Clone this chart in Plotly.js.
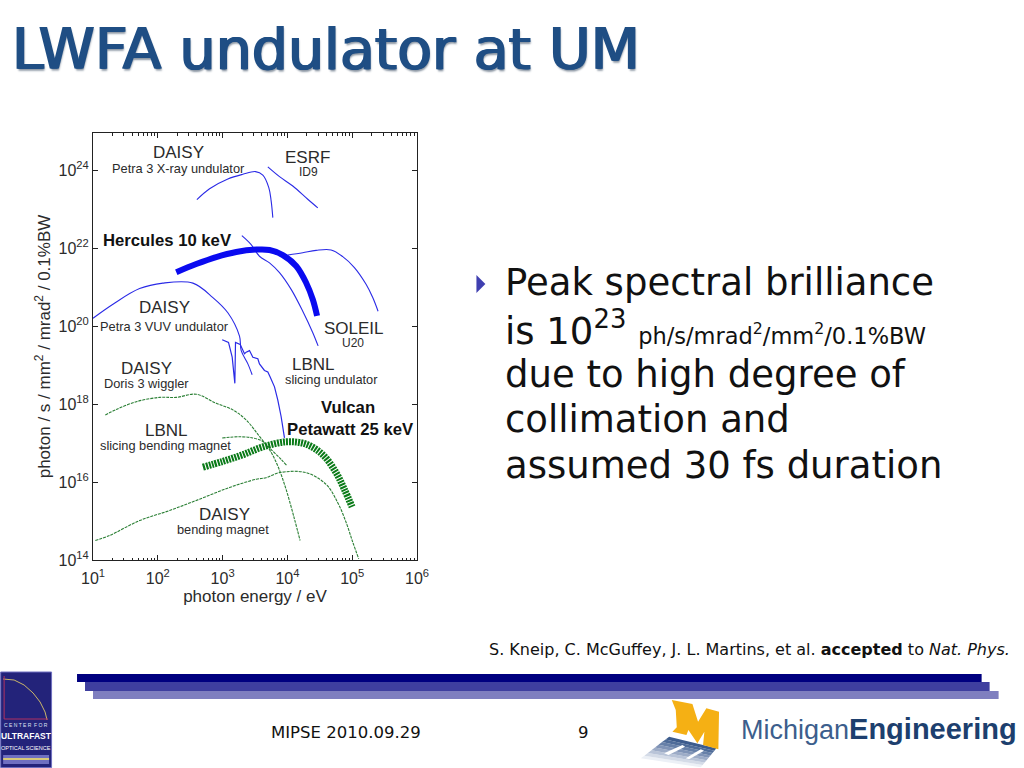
<!DOCTYPE html>
<html><head><meta charset="utf-8">
<script src="https://cdn.plot.ly/plotly-3.0.1.min.js"></script>
<style>html,body{margin:0;padding:0;background:#fff}#c{width:1024px;height:768px}</style>
</head><body><div id="c"></div>
<script>
// log10(photon energy / eV) and log10(brilliance)
const petraXrayE=[2.603,2.799,3.081,3.312,3.508,3.621,3.713,3.749,3.775];
const petraXrayB=[23.24,23.52,23.77,23.89,23.96,23.87,23.55,23.21,22.78];
const esrfE=[3.698,3.878,4.083,4.314,4.469];
const esrfB=[24.08,23.83,23.59,23.25,23.03];
const soleilE=[4.006,4.237,4.443,4.674,4.854,5.034,5.214,5.317,5.399];
const soleilB=[21.82,21.88,21.94,21.95,21.78,21.50,21.07,20.73,20.38];
const herculesE=[2.285,2.593,2.901,3.210,3.518,3.724,3.929,4.135,4.289,4.392,4.458];
const herculesB=[21.38,21.59,21.77,21.90,21.96,21.95,21.82,21.54,21.11,20.68,20.26];
const steepE=[3.297,3.441,3.569,3.724,3.878,4.058,4.237,4.392,4.474];
const steepB=[22.32,22.09,21.79,21.62,21.37,20.94,20.38,19.83,19.49];
const petraVuvE=[1.0,1.308,1.719,2.079,2.542,2.850,3.081,3.261,3.287,3.390,3.456];
const petraVuvB=[20.20,20.56,20.96,21.10,21.10,20.73,20.34,19.74,19.37,19.03,18.75];
const lbnlUndE=[2.994,3.091,3.148,3.189,3.199,3.271,3.338,3.364,3.415,3.467,3.544,3.569,3.646,3.698,3.734,3.801,3.852,3.903,3.955];
const lbnlUndB=[19.65,19.58,19.20,18.53,19.58,19.53,19.29,19.33,19.37,19.20,19.16,19.03,18.86,18.82,18.69,18.44,18.10,17.68,17.13];
const dorisE=[1.190,1.360,1.668,2.028,2.285,2.593,2.901,3.158,3.364,3.569,3.724,3.852,3.980,4.109,4.196];
const dorisB=[17.72,17.86,18.06,18.17,18.17,18.25,18.02,17.85,17.59,17.17,16.83,16.41,15.81,15.05,14.50];
const lbnlBendE=[2.994,3.261,3.467,3.621,3.775,3.903,3.991];
const lbnlBendB=[17.13,17.16,17.13,17.04,16.79,16.58,16.42];
const daisyBendE=[1.036,1.257,1.719,2.182,2.644,3.107,3.518,3.672,3.878,4.289,4.597,4.777,4.905,5.008,5.101];
const daisyBendB=[14.50,14.63,15.01,15.27,15.56,15.86,16.07,16.11,16.24,16.24,15.94,15.47,14.97,14.46,14.03];
const vulcanE=[2.696,3.004,3.312,3.621,3.980,4.289,4.546,4.751,4.880,4.998];
const vulcanB=[16.38,16.53,16.70,16.90,17.03,16.97,16.70,16.24,15.81,15.36];
const xTickExp=[1,2,3,4,5,6];
const yTickExp=[14,16,18,20,22,24];

const title="LWFA undulator at UM";
const bulletLines=["Peak spectral brilliance","is 10<sup>23</sup> <span style=\"font-size:22.5px\">ph/s/mrad<sup>2</sup>/mm<sup>2</sup>/0.1%BW</span>","due to high degree of","collimation and","assumed 30 fs duration"];
const citation="S. Kneip, C. McGuffey, J. L. Martins, et al. <b>accepted</b> to <i>Nat. Phys.</i>";

const P=v=>v.map(e=>Math.pow(10,e));
const BLUE='#2a2ae6',GREEN='#2a7f34';
const thin=(x,y,c,dash)=>({x:P(x),y:P(y),type:'scatter',mode:'lines',hoverinfo:'skip',
  line:{color:c,width:1.1,dash:dash||'solid',shape:'spline',smoothing:1}});
const data=[
 thin(petraXrayE,petraXrayB,BLUE),thin(esrfE,esrfB,BLUE),thin(soleilE,soleilB,BLUE),
 thin(steepE,steepB,BLUE),thin(petraVuvE,petraVuvB,BLUE),
 {x:P(lbnlUndE),y:P(lbnlUndB),type:'scatter',mode:'lines',line:{color:BLUE,width:1.2}},
 thin(dorisE,dorisB,GREEN,'3px,1px'),thin(lbnlBendE,lbnlBendB,GREEN,'3px,1px'),thin(daisyBendE,daisyBendB,GREEN,'3px,1px'),
 {x:P(herculesE),y:P(herculesB),type:'scatter',mode:'lines',line:{color:'#0a0af0',width:6,shape:'spline',smoothing:1}},
 {x:P(vulcanE),y:P(vulcanB),type:'scatter',mode:'lines',line:{color:'#0a7a18',width:7,dash:'2px,1px',shape:'spline',smoothing:1}}
];
// screen-pixel helpers for the slide furniture around the plot
const L=93,R=417.5,T=133,B=560;
const px=X=>(X-L)/(R-L), py=Y=>(B-Y)/(B-T);
const HV="Liberation Sans",DJ="DejaVu Sans";
const ann=(X,Y,text,size,opts)=>Object.assign({xref:'paper',yref:'paper',x:px(X),y:py(Y),text,showarrow:false,
  font:{family:HV,size,color:'#2b2b2b'},xanchor:'center',yanchor:'middle'},opts||{});
const bold=(X,Y,t)=>ann(X,Y,'<b>'+t+'</b>',16.7,{font:{family:HV,size:16.7,color:'#111'}});
const annotations=[
 ann(179,152,'DAISY',17),ann(179,168,'Petra 3 X-ray undulator',12.8),
 ann(308,158,'ESRF',17),ann(309,172,'ID9',12),
 bold(168,241,'Hercules 10 keV'),
 ann(165,307,'DAISY',17),ann(165,326,'Petra 3 VUV undulator',12.8),
 ann(354,328,'SOLEIL',17),ann(353,343,'U20',12),
 ann(147,368,'DAISY',17),ann(147,383,'Doris 3 wiggler',12.8),
 ann(314,364,'LBNL',17),ann(332,379,'slicing undulator',12.8),
 bold(348,407,'Vulcan'),bold(351,429,'Petawatt 25 keV'),
 ann(167,430,'LBNL',17),ann(166,446,'slicing bending magnet',12.8),
 ann(225,514,'DAISY',17),ann(223,529,'bending magnet',12.8),
 ann(10,49,title,57,{xanchor:'left',font:{family:DJ,size:57,color:'#1f4e84',shadow:'1px 0 0 #1f4e84, -1px 0 0 #1f4e84, 1px 2px 2px #8b96a3'}}),
 ...bulletLines.map((t,i)=>ann(504,[282,328,374,419,465][i],t,37,{xanchor:'left',font:{family:DJ,size:37,color:'#111'}})),
 ann(488,649,citation,16,{xanchor:'left',font:{family:DJ,size:16,color:'#111'}}),
 ann(346.5,732,'MIPSE 2010.09.29',16.5,{font:{family:DJ,size:16.5,color:'#111'}}),
 ann(584,732,'9',16.5,{font:{family:DJ,size:16.5,color:'#111'}}),
 ann(740,729,'<span style="font-size:27px;color:#3c5e8c">Michigan</span><b style="font-size:29px">Engineering</b>',28,{xanchor:'left',font:{family:HV,size:28,color:'#1d3f6e'}}),
 ann(26,725,'C E N T E R  F O R',5,{font:{family:HV,size:5,color:'#dfe3f5'}}),
 ann(26,736,'<b>ULTRAFAST</b>',8.5,{font:{family:HV,size:8.5,color:'#fff'}}),
 ann(26,748,'OPTICAL SCIENCE',5.5,{font:{family:HV,size:5.5,color:'#fff'}})
];
const rect=(x0,y0,x1,y1,c,lc)=>({type:'rect',xref:'paper',yref:'paper',x0:px(x0),x1:px(x1),y0:py(y0),y1:py(y1),fillcolor:c,line:{width:lc?1:0,color:lc||c},layer:'above'});
const poly=(pts,c)=>({type:'path',xref:'paper',yref:'paper',
  path:'M'+pts.map(p=>px(p[0])+','+py(p[1])).join(' L')+' Z',fillcolor:c,line:{width:0},layer:'above'});
const open=(pts,c,lw)=>({type:'path',xref:'paper',yref:'paper',path:'M'+pts.map(p=>px(p[0])+','+py(p[1])).join(' L'),line:{width:lw,color:c},layer:'above'});
const z=p=>[630+p[0]/3,690+p[1]/3];           // crop coordinates of the M logo to page pixels
const lerp=(a,b,t)=>[a[0]+(b[0]-a[0])*t,a[1]+(b[1]-a[1])*t];
const shadowColours=['#ecf0f6','#d4dbe7','#b9c4d8','#9dacc7','#8094b7','#6780a8','#4f6c99','#3d5c8d'];
const A=[120,140],C=[262,175],D=[35,205],E=[215,232];
const shadowSlices=shadowColours.map((c,i)=>{
  const t0=i/8,t1=(i+1)/8;
  return poly([lerp(D,A,t0),lerp(D,A,t1),lerp(E,C,t1),lerp(E,C,t0)].map(z),c);
});
const shapes=[
 rect(77,674,983,682,'#00007f'),rect(85,682,991,691,'#3f3f9f'),rect(93,691,1000,699,'#7f7fbf'),
 poly([[477,275],[477,293],[486,284]],'#3f3fb0'),
 rect(0.5,672,51.5,767.5,'#23237a','#6f6fc0'),
 open([[3,679],[14,680],[24,685],[33,693],[40,702],[45,712],[47,720]],'#c9b56a',1),
 open([[4,676],[4,719],[48,719]],'#b03060',1),
 rect(3,755,49,764,'#6f6fc0'),
 rect(3,758,49,760,'#d8c878'),
 ...shadowSlices,
 poly([[105,190],[160,165],[168,170],[118,195]].map(z),'#ffffff'),
 poly([[170,205],[215,178],[225,182],[180,208]].map(z),'#ffffff'),
 poly([[128,30],[190,42],[207,95],[232,55],[270,65],[268,178],[222,165],[226,125],[205,160],[178,120],[172,135],[130,125],[143,112],[140,60]].map(z),'#f5b014')
];
const axisCommon={showline:true,linecolor:'#222',linewidth:1,mirror:'allticks',ticks:'inside',tickcolor:'#222',zeroline:false,showgrid:false,type:'log',
  tickfont:{family:HV,size:16,color:'#2b2b2b'},tickmode:'array'};
const tickLabel=e=>'10<sup>'+e+'</sup>';
const layout={width:1024,height:768,paper_bgcolor:'#fff',plot_bgcolor:'#fff',showlegend:false,
 margin:{l:L,r:1024-R,t:T,b:768-B,pad:0},
 xaxis:Object.assign({},axisCommon,{range:[1,6],tickvals:P(xTickExp),ticktext:xTickExp.map(tickLabel),ticklen:5,ticklabelstandoff:4,minor:{ticks:'inside',ticklen:2.5,dtick:'D1',tickcolor:'#222'},
   title:{text:'photon energy / eV',standoff:2,font:{family:HV,size:17,color:'#2b2b2b'}}}),
 yaxis:Object.assign({},axisCommon,{range:[14,24.95],tickvals:P(yTickExp),ticktext:yTickExp.map(tickLabel),ticklen:5,
   title:{text:'photon / s / mm<sup>2</sup> / mrad<sup>2</sup> / 0.1%BW',standoff:3,font:{family:HV,size:17,color:'#2b2b2b'}}}),
 annotations,shapes};
Plotly.newPlot('c',data,layout,{displayModeBar:false,staticPlot:true});
</script></body></html>
